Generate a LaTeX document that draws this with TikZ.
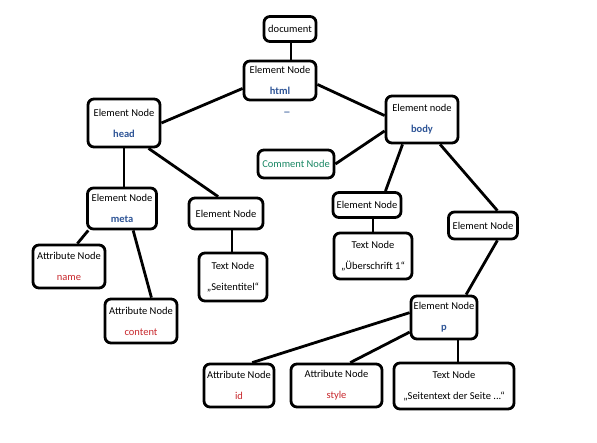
\documentclass[tikz,border=0pt]{standalone}
\usepackage{fontspec}
\setmainfont{Carlito}
\definecolor{nblue}{RGB}{47,85,151}
\definecolor{nred}{RGB}{200,40,45}
\definecolor{ngreen}{RGB}{25,135,100}
\begin{document}
\begin{tikzpicture}[x=1pt,y=-1pt,
  box/.style={draw, line width=2.8pt, rounded corners=6pt, align=center, inner sep=0pt, font=\fontsize{10.5}{13}\selectfont},
  conn/.style={line width=2.8pt},
]
\useasboundingbox[fill=white] (0,0) rectangle (597,443);
\newcommand{\two}[2]{#1\\[8pt]#2}
\node[box,minimum width=52pt,minimum height=25pt] (doc) at (290,29) {document};
\node[box,minimum width=72pt,minimum height=39pt] (html) at (280,80.5) {\two{Element Node}{\textcolor{nblue}{\bfseries html}}};
\node[text=nblue,font=\fontsize{10.5}{13}\selectfont\bfseries] (us) at (287,112) {\_};
\node[box,minimum width=72pt,minimum height=48pt] (head) at (124,123) {\two{Element Node}{\textcolor{nblue}{\bfseries head}}};
\node[box,minimum width=72pt,minimum height=47pt] (body) at (422,119.5) {\two{Element node}{\textcolor{nblue}{\bfseries body}}};
\node[box,minimum width=76pt,minimum height=28pt,text=ngreen] (comment) at (296,164) {Comment Node};
\node[box,minimum width=69pt,minimum height=41pt] (meta) at (122,208.5) {\two{Element Node}{\textcolor{nblue}{\bfseries meta}}};
\node[box,minimum width=72pt,minimum height=43pt] (name) at (69,266.5) {\two{Attribute Node}{\textcolor{nred}{name}}};
\node[box,minimum width=72pt,minimum height=44pt] (content) at (141,321) {\two{Attribute Node}{\textcolor{nred}{content}}};
\node[box,minimum width=74pt,minimum height=31pt] (elA) at (226,213.5) {Element Node};
\node[box,minimum width=68pt,minimum height=48pt] (tt) at (233,277) {\two{Text Node}{„Seitentitel“}};
\node[box,minimum width=68pt,minimum height=25pt] (e1) at (367,205) {Element Node};
\node[box,minimum width=78pt,minimum height=46pt] (ue) at (373,256) {\two{Text Node}{„Überschrift 1“}};
\node[box,minimum width=69pt,minimum height=27pt] (e2) at (483,225.5) {Element Node};
\node[box,minimum width=66pt,minimum height=43pt] (p) at (444,317.5) {\two{Element Node}{\textcolor{nblue}{\bfseries p}}};
\node[box,minimum width=70pt,minimum height=43pt] (id) at (239,385.5) {\two{Attribute Node}{\textcolor{nred}{id}}};
\node[box,minimum width=91pt,minimum height=43pt] (style) at (336.5,385.5) {\two{Attribute Node}{\textcolor{nred}{style}}};
\node[box,minimum width=120pt,minimum height=46pt] (st) at (454,386) {\two{Text Node}{„Seitentext der Seite ...“}};
\draw[conn] ([xshift=1pt]doc.south) -- ([xshift=1pt]doc.south |- html.north);
\draw[conn] (html.192) -- (head.east);
\draw[conn] (html.354) -- (body.174);
\draw[conn] (head.south) -- (head.south |- meta.north);
\draw[conn] (head.314) -- (elA.115);
\draw[conn] (meta.213) -- (name.70);
\draw[conn] (meta.297) -- (content.66);
\draw[conn] ([xshift=-1pt]tt.north) -- ([xshift=-1pt]tt.north |- elA.south);
\draw[conn] (body.197) -- (comment.east);
\draw[conn] (body.232) -- (e1.37);
\draw[conn] (body.306) -- (e2.46);
\draw[conn] (ue.north) -- (ue.north |- e1.south);
\draw[conn] (e2.314) -- (p.46);
\draw[conn] (p.172) -- (id.60);
\draw[conn] (p.203) -- (style.59);
\draw[conn] ([xshift=14pt]p.south) -- ([xshift=14pt]p.south |- st.north);
\end{tikzpicture}
\end{document}
